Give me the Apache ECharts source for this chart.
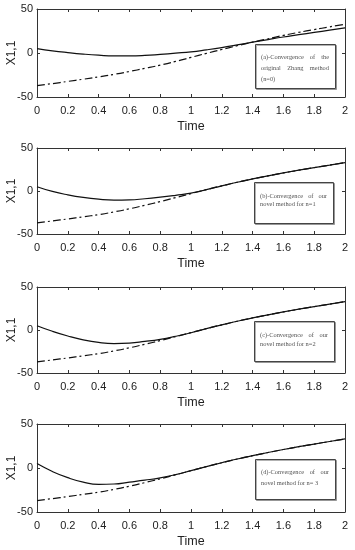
<!DOCTYPE html>
<html><head><meta charset="utf-8">
<script src="https://cdn.jsdelivr.net/npm/echarts@6/dist/echarts.min.js"></script>
<style>html,body{margin:0;padding:0;background:#fff}#c{width:355px;height:550px}</style>
</head><body><div id="c"></div>
<script>
const times = [0,0.1,0.2,0.3,0.4,0.5,0.6,0.7,0.8,0.9,1.0,1.1,1.2,1.3,1.4,1.5,1.6,1.7,1.8,1.9,2.0];
const xTicks = ['0','0.2','0.4','0.6','0.8','1','1.2','1.4','1.6','1.8','2'];
const yTicks = ['-50','0','50'];
// reference (dash-dot) trajectories
const refA = [-37,-34.8,-32.3,-29.8,-27.2,-24.3,-21,-17.5,-13.8,-9.6,-5,-0.4,4,8.3,12.3,16.2,20,23.5,26.6,29.7,32.7];
const refB = [-37,-34.8,-32.5,-30,-27.5,-24.3,-20.7,-16.6,-12.3,-7.7,-3,1.6,6,10.2,14,17.6,21,24.2,27.2,30.1,33];
// solid (estimated) trajectories
const solidN0 = [5,2.5,0.5,-1.2,-2.5,-3.3,-3.3,-2.8,-1.6,-0.2,1.3,3.6,6.2,9.2,12.3,15.3,18.2,20.8,23.4,25.9,28.5];
const solidN1 = [5,-0.5,-4.5,-7.5,-9.5,-10.5,-10.3,-9,-7.2,-5,-2.5,1.6,6,10.2,14,17.6,21,24.2,27.2,30.1,33];
const solidN2 = [5,-1.5,-7,-11.5,-14.5,-15.8,-15.3,-13.3,-10.8,-7.3,-3.2,1.6,6,10.2,14,17.6,21,24.2,27.2,30.1,33];
const solidN3 = [5,-4,-11,-16,-18.5,-18.2,-16,-13.8,-11.2,-7.5,-3,1.6,6,10.2,14,17.6,21,24.2,27.2,30.1,33];
const captionLines = [
  [['(a)-Convergence of the',true],['original Zhang method',true],['(n=0)',false]],
  [['(b)-Convergence of our',true],['novel method for n=1',false]],
  [['(c)-Convergence of our',true],['novel method for n=2',false]],
  [['(d)-Convergence of our',true],['novel method for n= 3',false]]
];
const solids = [solidN0, solidN1, solidN2, solidN3];
const refs = [refA, refB, refB, refB];

const grids = [
  {top: 9, height: 88},
  {top: 148, height: 86},
  {top: 287, height: 86},
  {top: 424, height: 88}
];
const boxes = [
  {x:255, y:44, w:80, h:44, lines:[57,68,79]},
  {x:254, y:182, w:79, h:41, lines:[196,204.5]},
  {x:254, y:321, w:80, h:40, lines:[335,344.5]},
  {x:255, y:459, w:80, h:40, lines:[472.5,483.5]}
];

const chart = echarts.init(document.getElementById('c'), null, {renderer:'canvas'});
const axisColor = '#333';
const labelColor = '#222';
const font = 'Liberation Sans, Arial, sans-serif';

const option = {
  animation: false,
  backgroundColor: '#fff',
  grid: grids.map(g => ({left: 37, right: 10, top: g.top, height: g.height, containLabel: false, outerBoundsMode: 'none'})),
  xAxis: [],
  yAxis: [],
  series: [],
  graphic: []
};
grids.forEach((g, i) => {
  option.xAxis.push({
    type: 'value', gridIndex: i, min: 0, max: 2, interval: 0.2, position: 'bottom',
    name: 'Time', nameLocation: 'middle', nameGap: 23, nameMoveOverlap: false,
    nameTextStyle: {fontFamily: font, fontSize: 12.5, color: labelColor},
    axisLine: {onZero: false, lineStyle: {color: axisColor, width: 1}},
    axisTick: {inside: true, length: 3, lineStyle: {color: axisColor}},
    axisLabel: {margin: 8, fontFamily: font, fontSize: 11, color: labelColor,
      formatter: v => xTicks[Math.round(v / 0.2)]},
    splitLine: {show: false}
  });
  option.yAxis.push({
    type: 'value', gridIndex: i, min: -50, max: 50, interval: 50, position: 'left',
    name: 'X1,1', nameLocation: 'middle', nameGap: 19, nameRotate: 90, nameMoveOverlap: false,
    nameTextStyle: {fontFamily: font, fontSize: 12, color: labelColor},
    axisLine: {onZero: false, lineStyle: {color: axisColor, width: 1}},
    axisTick: {inside: true, length: 3, lineStyle: {color: axisColor}},
    axisLabel: {margin: 4, fontFamily: font, fontSize: 11, color: labelColor,
      formatter: v => yTicks[Math.round((v + 50) / 50)]},
    splitLine: {show: false}
  });
});
grids.forEach((g, i) => {
  option.xAxis.push({
    type: 'value', gridIndex: i, min: 0, max: 2, interval: 0.2, position: 'top',
    axisLine: {onZero: false, lineStyle: {color: axisColor, width: 1}},
    axisTick: {inside: true, length: 3, lineStyle: {color: axisColor}},
    axisLabel: {show: false}, splitLine: {show: false}
  });
  option.yAxis.push({
    type: 'value', gridIndex: i, min: -50, max: 50, interval: 50, position: 'right',
    axisLine: {onZero: false, lineStyle: {color: axisColor, width: 1}},
    axisTick: {inside: true, length: 3, lineStyle: {color: axisColor}},
    axisLabel: {show: false}, splitLine: {show: false}
  });
});
grids.forEach((g, i) => {
  option.series.push({
    type: 'line', xAxisIndex: i, yAxisIndex: i, smooth: true, symbol: 'none',
    data: times.map((t, k) => [t, refs[i][k]]),
    lineStyle: {color: '#111', width: 1.2, type: [8, 3, 2, 3]}, z: 2
  });
  option.series.push({
    type: 'line', xAxisIndex: i, yAxisIndex: i, smooth: true, symbol: 'none',
    data: times.map((t, k) => [t, solids[i][k]]),
    lineStyle: {color: '#111', width: 1.2, type: 'solid'}, z: 3
  });
});

// caption boxes
const mctx = document.createElement('canvas').getContext('2d');
const capFont = 'Liberation Serif, Times New Roman, serif';
const capSize = 6.4;
mctx.font = capSize + 'px ' + capFont;
boxes.forEach((b, i) => {
  option.graphic.push({
    type: 'rect', z: 10,
    shape: {x: b.x + 0.5, y: b.y + 0.5, width: b.w, height: b.h},
    style: {fill: '#fff', stroke: '#444', lineWidth: 1,
      shadowBlur: 0, shadowColor: 'rgba(0,0,0,0.3)', shadowOffsetX: 1, shadowOffsetY: 1}
  });
  const left = b.x + 6, right = b.x + b.w - 6;
  captionLines[i].forEach((ln, j) => {
    const [txt, justify] = ln;
    const y = b.lines[j];
    if (!justify) {
      option.graphic.push({type: 'text', z: 11, x: left, y: y,
        style: {text: txt, font: capSize + 'px ' + capFont, fill: '#555', verticalAlign: 'middle', align: 'left'}});
    } else {
      const words = txt.split(' ');
      const widths = words.map(w => mctx.measureText(w).width);
      const total = widths.reduce((a, c) => a + c, 0);
      const gap = (right - left - total) / (words.length - 1);
      let x = left;
      words.forEach((w, k) => {
        option.graphic.push({type: 'text', z: 11, x: x, y: y,
          style: {text: w, font: capSize + 'px ' + capFont, fill: '#555', verticalAlign: 'middle', align: 'left'}});
        x += widths[k] + gap;
      });
    }
  });
});

chart.setOption(option);
</script>
</body></html>
